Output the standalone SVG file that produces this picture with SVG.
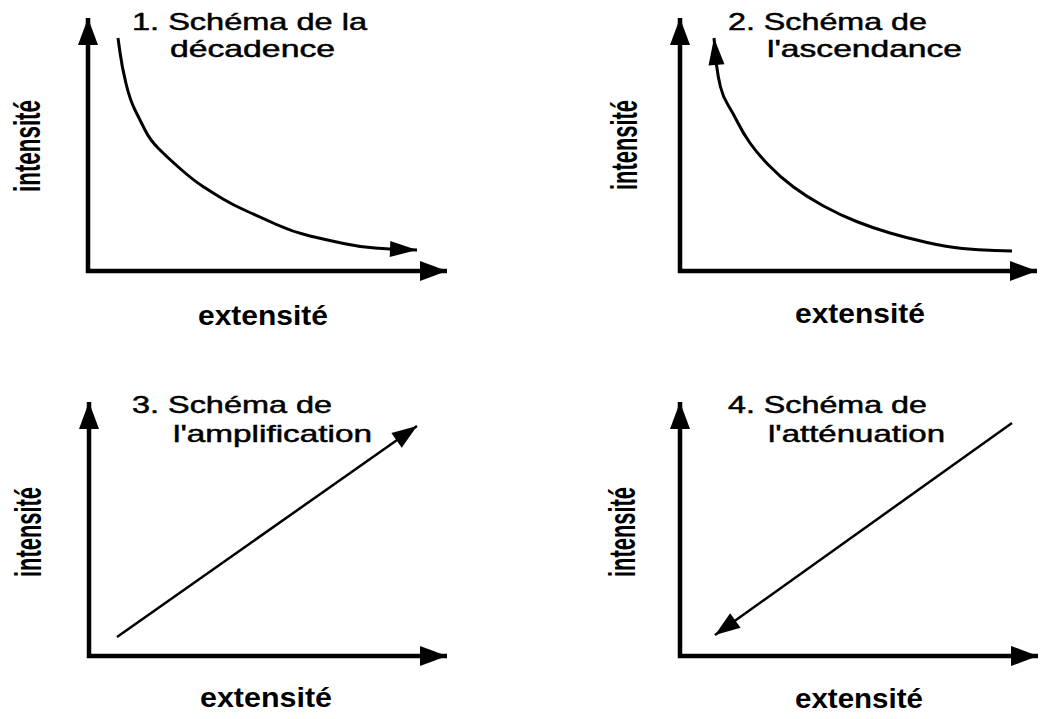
<svg xmlns="http://www.w3.org/2000/svg" width="1040" height="719" viewBox="0 0 1040 719">
<style>
.t{font-family:"Liberation Sans",Arial,sans-serif;font-size:24px;fill:#000;stroke:#000;stroke-width:0.5}
.ax{font-family:"Liberation Sans",Arial,sans-serif;font-size:36px;font-weight:bold;fill:#000}
.ex{font-family:"Liberation Sans",Arial,sans-serif;font-size:28px;font-weight:bold;fill:#000}
.axis{fill:none;stroke:#000;stroke-width:4.5;stroke-linejoin:miter}
.crv{fill:none;stroke:#000;stroke-width:3;stroke-linejoin:round}
.ln{fill:none;stroke:#000;stroke-width:2.5}
</style>
<defs>
<marker id="ah" markerUnits="userSpaceOnUse" markerWidth="28" markerHeight="20" refX="27" refY="10" orient="auto-start-reverse" overflow="visible"><path d="M0,0 L27,10 L0,20 z" fill="#000"/></marker>
<marker id="ch" markerUnits="userSpaceOnUse" markerWidth="28" markerHeight="18" refX="27" refY="8" orient="auto-start-reverse" overflow="visible"><path d="M0,0 L27,8 L0,16 z" fill="#000"/></marker>
<marker id="dh" markerUnits="userSpaceOnUse" markerWidth="26" markerHeight="18" refX="25" refY="9" orient="auto-start-reverse" overflow="visible"><path d="M0,0 L25,9 L0,18 z" fill="#000"/></marker>
</defs>
<rect width="1040" height="719" fill="#fff"/>
<g id="panel1">
<text class="t" x="132" y="30" textLength="235" lengthAdjust="spacingAndGlyphs">1. Schéma de la</text>
<text class="t" x="170" y="57" textLength="165" lengthAdjust="spacingAndGlyphs">décadence</text>
<text class="ax" transform="translate(40,192) rotate(-90)" textLength="92" lengthAdjust="spacingAndGlyphs">intensité</text>
<text class="ex" x="198" y="325" textLength="130" lengthAdjust="spacingAndGlyphs">extensité</text>
</g>
<g id="panel2">
<text class="t" x="728" y="30" textLength="199" lengthAdjust="spacingAndGlyphs">2. Schéma de</text>
<text class="t" x="767" y="57" textLength="195" lengthAdjust="spacingAndGlyphs">l'ascendance</text>
<text class="ax" transform="translate(637,190) rotate(-90)" textLength="90" lengthAdjust="spacingAndGlyphs">intensité</text>
<text class="ex" x="795" y="323" textLength="130" lengthAdjust="spacingAndGlyphs">extensité</text>
</g>
<g id="panel3">
<text class="t" x="132" y="413" textLength="200" lengthAdjust="spacingAndGlyphs">3. Schéma de</text>
<text class="t" x="173" y="442" textLength="199" lengthAdjust="spacingAndGlyphs">l'amplification</text>
<text class="ax" transform="translate(41,577) rotate(-90)" textLength="90" lengthAdjust="spacingAndGlyphs">intensité</text>
<text class="ex" x="200" y="707" textLength="132" lengthAdjust="spacingAndGlyphs">extensité</text>
</g>
<g id="panel4">
<text class="t" x="728" y="413" textLength="199" lengthAdjust="spacingAndGlyphs">4. Schéma de</text>
<text class="t" x="768" y="442" textLength="177" lengthAdjust="spacingAndGlyphs">l'atténuation</text>
<text class="ax" transform="translate(635,577) rotate(-90)" textLength="90" lengthAdjust="spacingAndGlyphs">intensité</text>
<text class="ex" x="795" y="708" textLength="128" lengthAdjust="spacingAndGlyphs">extensité</text>
</g>
<g id="connectors">
<path class="axis" d="M88,18 V271 H447" marker-start="url(#ah)" marker-end="url(#ah)"/>
<path class="axis" d="M680,18 V271 H1037" marker-start="url(#ah)" marker-end="url(#ah)"/>
<path class="axis" d="M89,402 V656 H447" marker-start="url(#ah)" marker-end="url(#ah)"/>
<path class="axis" d="M680,402 V656 H1038" marker-start="url(#ah)" marker-end="url(#ah)"/>
<path class="crv" d="M118,38 L120,52.5 Q122,67 126,83.5 Q130,100 135,110 Q140,120 145,130 Q150,140 158.5,148.5 Q167,157 180,168.5 Q193,180 203,186.5 Q213,193 223,199 Q233,205 246.5,211 Q260,217 276.5,224.5 Q293,232 310,236 Q327,240 343.5,243.5 Q360,247 375,248 Q390,249 403.5,249.5 L417,250" marker-end="url(#ch)"/>
<path class="crv" d="M714,38 L716.5,65 Q718,77 720.5,87 Q723,97 728,105 Q733,113 738,123 Q743,133 750,143 Q757,153 768.5,165 Q780,177 793.5,187 Q807,197 823.5,206 Q840,215 856.5,221.5 Q873,228 890,233 Q907,238 927,242.5 Q947,247 962.5,248.5 Q978,250 995,250.5 L1012,251" marker-start="url(#ch)"/>
<path class="ln" d="M117,637 L417,426" marker-end="url(#dh)"/>
<path class="ln" d="M1012,423 L715,635" marker-end="url(#dh)"/>
</g>
</svg>
